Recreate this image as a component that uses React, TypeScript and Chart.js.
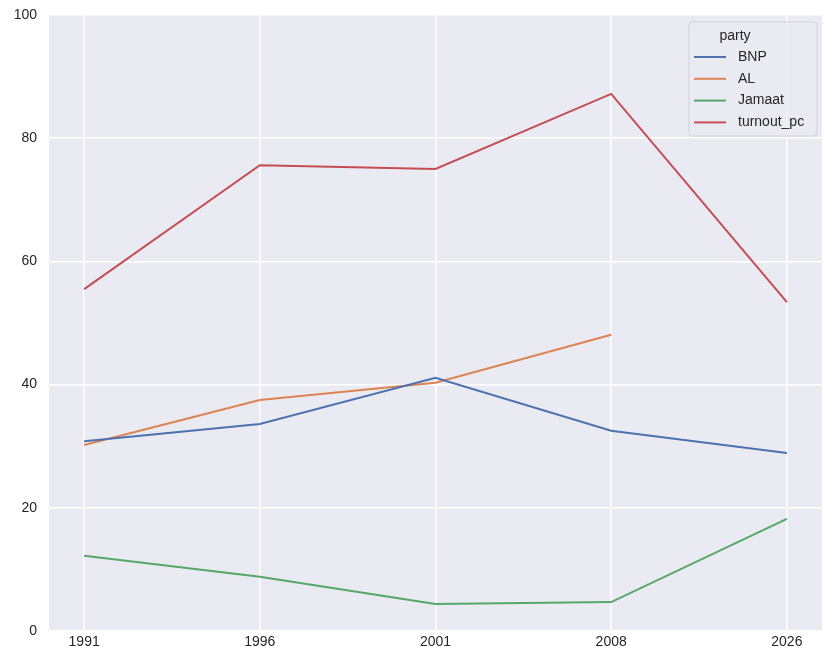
import React, { useEffect, useRef } from "react";
import { Chart, registerables } from "chart.js";

Chart.register(...registerables);

const years = ["1991", "1996", "2001", "2008", "2026"];
const bnp = [30.8, 33.6, 41.1, 32.5, 28.9];
const al = [30.2, 37.5, 40.3, 48.1, null];
const jamaat = [12.2, 8.8, 4.4, 4.7, 18.2];
const turnout = [55.5, 75.6, 75.0, 87.2, 53.4];
const seriesNames = ["BNP", "AL", "Jamaat", "turnout_pc"];
const seriesColors = ["#4c72b0", "#dd8452", "#55a868", "#c44e52"];
const legendTitle = "party";

const FONT = "'Liberation Sans', Arial, sans-serif";
const TEXT = "#262626";

const bgPlugin = {
  id: "bgPlugin",
  beforeDraw(chart: any) {
    const { ctx, chartArea } = chart;
    ctx.save();
    ctx.fillStyle = "#ffffff";
    ctx.fillRect(0, 0, chart.width, chart.height);
    ctx.fillStyle = "#eaeaf2";
    ctx.fillRect(chartArea.left, chartArea.top, chartArea.right - chartArea.left, chartArea.bottom - chartArea.top);
    ctx.restore();
  },
};

const legendPlugin = {
  id: "boxLegend",
  afterDraw(chart: any) {
    const { ctx, chartArea } = chart;
    const right = chartArea.right - 5;
    const top = chartArea.top + 7;
    const w = 128;
    const h = 114;
    const left = right - w;
    ctx.save();
    ctx.fillStyle = "rgba(234,234,242,0.8)";
    ctx.strokeStyle = "#d0d0d8";
    ctx.lineWidth = 1;
    const r = 3;
    ctx.beginPath();
    ctx.moveTo(left + r, top);
    ctx.lineTo(left + w - r, top);
    ctx.quadraticCurveTo(left + w, top, left + w, top + r);
    ctx.lineTo(left + w, top + h - r);
    ctx.quadraticCurveTo(left + w, top + h, left + w - r, top + h);
    ctx.lineTo(left + r, top + h);
    ctx.quadraticCurveTo(left, top + h, left, top + h - r);
    ctx.lineTo(left, top + r);
    ctx.quadraticCurveTo(left, top, left + r, top);
    ctx.closePath();
    ctx.fill();
    ctx.stroke();
    ctx.fillStyle = TEXT;
    ctx.font = `14px ${FONT}`;
    ctx.textBaseline = "middle";
    ctx.textAlign = "center";
    ctx.fillText(legendTitle, left + 46, top + 14);
    ctx.textAlign = "left";
    chart.data.datasets.forEach((ds: any, i: number) => {
      const y = top + 35 + i * 21.8;
      ctx.strokeStyle = ds.borderColor;
      ctx.lineWidth = 2;
      ctx.beginPath();
      ctx.moveTo(left + 5, y);
      ctx.lineTo(left + 37, y);
      ctx.stroke();
      ctx.fillText(ds.label, left + 49, y);
    });
    ctx.restore();
  },
};

export default function App() {
  const ref = useRef<HTMLCanvasElement>(null);
  useEffect(() => {
    const seriesData = [bnp, al, jamaat, turnout];
    const chart = new Chart(ref.current!, {
      type: "line",
      data: {
        datasets: seriesNames.map((name, i) => ({
          label: name,
          data: seriesData[i].map((v, j) => ({ x: j, y: v })),
          borderColor: seriesColors[i],
          backgroundColor: seriesColors[i],
          borderWidth: 2,
          pointRadius: 0,
          spanGaps: false,
          tension: 0,
        })),
      },
      options: {
        animation: false,
        responsive: false,
        maintainAspectRatio: false,
        layout: { padding: { top: 15, right: 11, left: 0, bottom: 0 } },
        plugins: {
          legend: { display: false },
          tooltip: { enabled: false },
        },
        scales: {
          x: {
            type: "linear",
            min: -0.2,
            max: 4.2,
            afterBuildTicks(axis: any) {
              axis.ticks = years.map((_, i) => ({ value: i }));
            },
            afterFit(axis: any) {
              axis.height = 37;
              axis.paddingLeft = 0;
              axis.paddingRight = 0;
            },
            border: { display: false },
            grid: { color: "#ffffff", lineWidth: 1.5, drawTicks: false },
            ticks: {
              color: TEXT,
              font: { family: FONT, size: 14 },
              padding: 3,
              maxRotation: 0,
              autoSkip: false,
              callback: (v: any) => years[v] ?? "",
            },
          },
          y: {
            min: 0,
            max: 100,
            afterFit(axis: any) {
              axis.width = 49;
              axis.paddingTop = 0;
              axis.paddingBottom = 0;
            },
            border: { display: false },
            grid: { color: "#ffffff", lineWidth: 1.5, drawTicks: false },
            ticks: {
              stepSize: 20,
              color: TEXT,
              font: { family: FONT, size: 14 },
              padding: 12,
            },
          },
        },
      },
      plugins: [bgPlugin, legendPlugin],
    });
    return () => chart.destroy();
  }, []);
  return (
    <div style={{ position: "fixed", left: 0, top: 0, width: 833, height: 668, background: "#fff" }}>
      <canvas ref={ref} width={833} height={668} style={{ width: 833, height: 668 }} />
    </div>
  );
}
